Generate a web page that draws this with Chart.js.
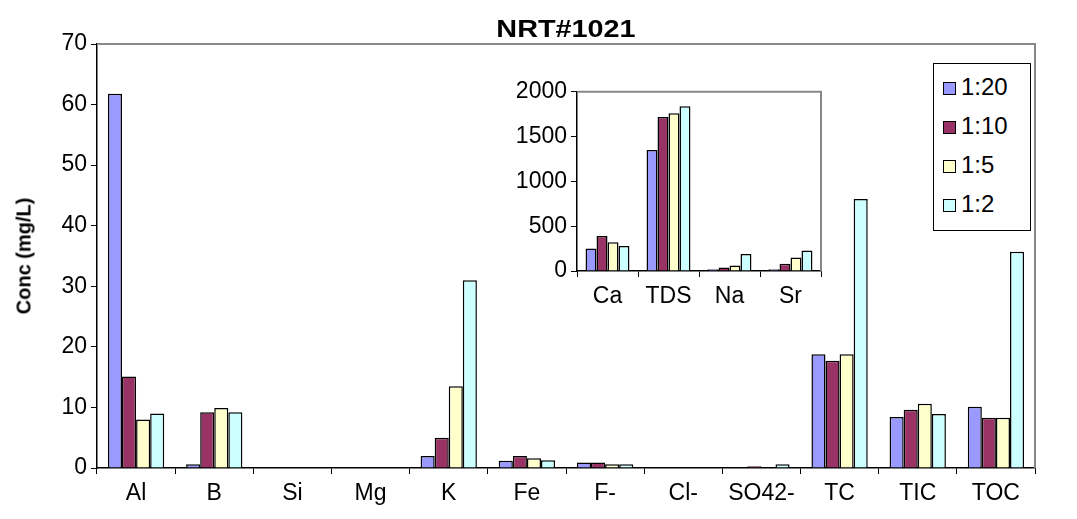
<!DOCTYPE html>
<html><head><meta charset="utf-8">
<script src="https://cdn.jsdelivr.net/npm/chart.js@4"></script>
<style>
body{margin:0;background:#fff;font-family:"Liberation Sans",Arial,sans-serif}
#wrap{position:relative;width:1077px;height:519px}
#title{position:absolute;left:97px;width:938px;top:15px;text-align:center;font-weight:bold;font-size:24px;transform:scaleX(1.2)}
#ylab{position:absolute;left:24px;top:256px;transform:translate(-50%,-50%) rotate(-90deg);font-weight:bold;font-size:20px;white-space:nowrap}
#inset{position:absolute;left:480px;top:74px}
#legend{position:absolute;left:933px;top:63px;width:98px;height:168px;border:1px solid #000;background:#fff;box-sizing:border-box;padding:9px 0 0 9px;font-size:24px}
#legend div{height:39px;display:flex;align-items:flex-start}
#legend span{display:inline-block;width:11px;height:11px;border:1px solid #000;margin:9px 5px 0 0;flex:none}
</style></head><body>
<div id="wrap">
<canvas id="main" width="1077" height="519"></canvas>
<canvas id="inset" width="355" height="240"></canvas>
<div id="title">NRT#1021</div>
<div id="ylab">Conc (mg/L)</div>
<div id="legend"></div>
</div>
<script>
const seriesNames = ["1:20", "1:10", "1:5", "1:2"];
const colors = ["#9999ff", "#993366", "#ffffcc", "#ccffff"];

const mainCats = ["Al", "B", "Si", "Mg", "K", "Fe", "F-", "Cl-", "SO42-", "TC", "TIC", "TOC"];
const main_1_20 = [61.8, 0.6, 0, 0, 2.0, 1.2, 0.9, 0, 0, 18.8, 8.4, 10.1];
const main_1_10 = [15.1, 9.2, 0, 0, 5.0, 2.0, 0.9, 0, 0.3, 17.7, 9.6, 8.3];
const main_1_5 = [8.0, 9.9, 0, 0, 13.5, 1.6, 0.6, 0, 0, 18.8, 10.6, 8.3];
const main_1_2 = [9.0, 9.2, 0, 0, 31.0, 1.3, 0.6, 0, 0.6, 44.4, 8.9, 35.7];

const insetCats = ["Ca", "TDS", "Na", "Sr"];
const inset_1_20 = [250, 1350, 20, 20];
const inset_1_10 = [390, 1720, 40, 80];
const inset_1_5 = [320, 1760, 60, 150];
const inset_1_2 = [280, 1840, 190, 230];

document.getElementById("legend").innerHTML = seriesNames.map((n, i) =>
  `<div><span style="background:${colors[i]}"></span>${n}</div>`).join("");

const font = { family: "'Liberation Sans', Arial, sans-serif", size: 23 };

const frame = {
  id: "frame",
  afterDraw(c) {
    const a = c.chartArea, x = c.ctx;
    x.save();
    x.strokeStyle = "#888"; x.lineWidth = 2;
    x.beginPath(); x.moveTo(a.left, a.top); x.lineTo(a.right, a.top); x.lineTo(a.right, a.bottom); x.stroke();
    x.restore();
  }
};

function makeDatasets(arrs) {
  return arrs.map((d, i) => ({
    label: seriesNames[i], data: d, backgroundColor: colors[i],
    borderColor: "#000", borderWidth: 1.5, barPercentage: 1, categoryPercentage: 0.72
  }));
}

function opts(yMax, step, yW, xH, pad) {
  return {
    responsive: false, animation: false,
    layout: { padding: pad },
    plugins: { legend: { display: false }, tooltip: { enabled: false } },
    scales: {
      x: {
        grid: { offset: true, drawOnChartArea: false, tickLength: 6, color: "#000" },
        border: { color: "#000", width: 1.5 },
        ticks: { color: "#000", font, padding: 6 },
        afterFit: (s) => { s.height = xH; }
      },
      y: {
        min: 0, max: yMax,
        grid: { drawOnChartArea: false, tickLength: 6, color: "#000" },
        border: { color: "#000", width: 1.5 },
        ticks: { stepSize: step, color: "#000", font, padding: 4, callback: (v) => String(v) },
        afterFit: (s) => { s.width = yW; }
      }
    }
  };
}

new Chart(document.getElementById("main"), {
  type: "bar",
  data: { labels: mainCats, datasets: makeDatasets([main_1_20, main_1_10, main_1_5, main_1_2]) },
  options: opts(70, 10, 97, 51, { top: 44, right: 42, left: 0, bottom: 0 }),
  plugins: [frame]
});

new Chart(document.getElementById("inset"), {
  type: "bar",
  data: { labels: insetCats, datasets: makeDatasets([inset_1_20, inset_1_10, inset_1_5, inset_1_2]) },
  options: opts(2000, 500, 97, 43, { top: 10, right: 14, left: 0, bottom: 0 }),
  plugins: [{ id: "bg", beforeDraw(c) { const x = c.ctx; x.save(); x.fillStyle = "#fff"; x.fillRect(0, 0, c.width, c.height); x.restore(); } }, frame]
});
</script>
</body></html>
